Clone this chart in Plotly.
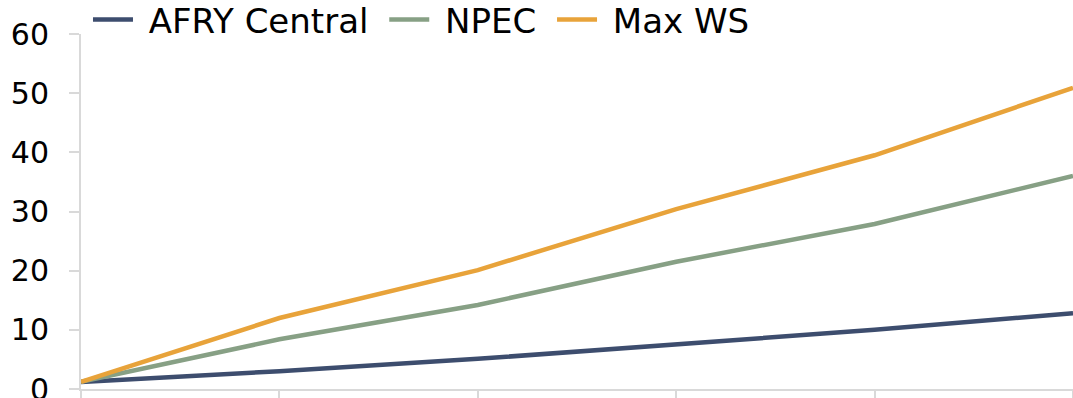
import plotly.graph_objects as go

periods = [0, 1, 2, 3, 4, 5]
afry_central = [1.2, 3.0, 5.1, 7.6, 10.0, 12.8]
npec = [1.2, 8.4, 14.2, 21.5, 27.9, 36.0]
max_ws = [1.2, 12.0, 20.1, 30.4, 39.5, 50.9]
y_ticks = [0, 10, 20, 30, 40, 50, 60]

series = [
    ("AFRY Central", afry_central, "#3d4d6e"),
    ("NPEC", npec, "#87a085"),
    ("Max WS", max_ws, "#e8a33a"),
]

fig = go.Figure()
for name, vals, color in series:
    fig.add_trace(go.Scatter(x=periods, y=vals, name=" " + name + " ", mode="lines",
                             line=dict(color=color, width=4.5)))

fig.update_layout(
    width=1073, height=398,
    margin=dict(l=81, r=0, t=34, b=9, autoexpand=False),
    paper_bgcolor="white", plot_bgcolor="white",
    font=dict(family="DejaVu Sans", size=30, color="black"),
    showlegend=True,
    legend=dict(orientation="h", xref="container", yref="paper",
                x=0.082, y=1.04, xanchor="left", yanchor="middle",
                font=dict(size=34), itemwidth=40, tracegroupgap=0,
                bgcolor="rgba(0,0,0,0)"),
    xaxis=dict(range=[0, 5], showgrid=False, zeroline=False,
               showline=True, linecolor="#d9d9d9", linewidth=2,
               ticks="outside", ticklen=9, tickcolor="#d9d9d9", tickwidth=2,
               tickvals=periods, showticklabels=False),
    yaxis=dict(range=[0, 60], showgrid=False, zeroline=False,
               showline=True, linecolor="#d9d9d9", linewidth=2,
               ticks="outside", ticklen=10, tickcolor="#d9d9d9", tickwidth=2,
               tickvals=y_ticks, ticklabelstandoff=14, ticklabeloverflow="allow"),
)

fig.write_html("out.html")
